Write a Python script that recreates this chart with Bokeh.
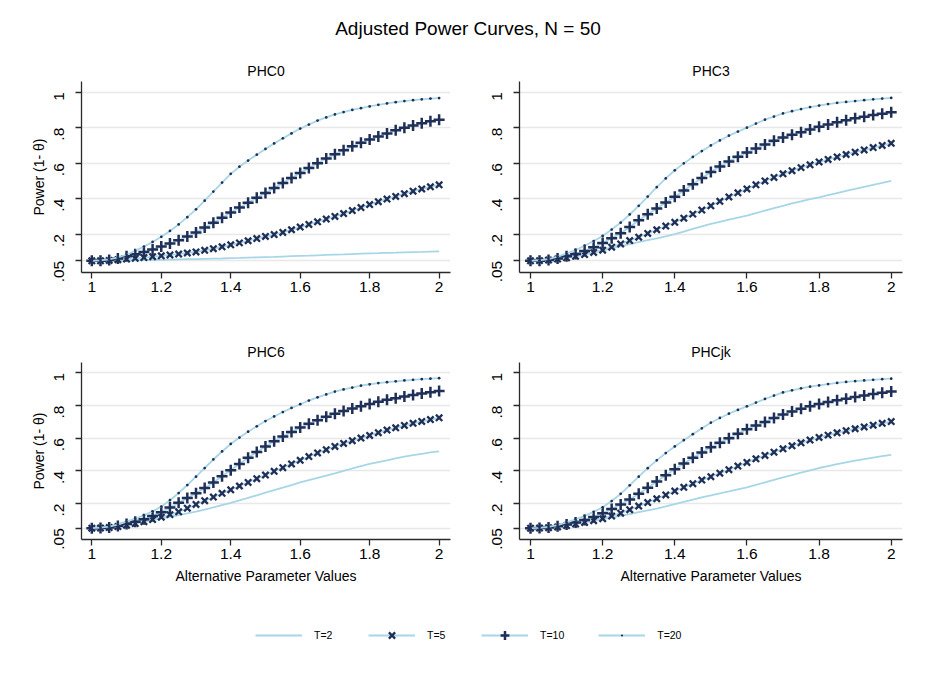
import math
from bokeh.plotting import figure
from bokeh.models import Range1d, FixedTicker, ColumnDataSource, Legend, LegendItem
from bokeh.layouts import column, row
from bokeh.embed import file_html
from bokeh.resources import INLINE
from bokeh.core.properties import value

# ---------------- data ----------------
alt_values = [1.000, 1.025, 1.050, 1.075, 1.100, 1.125, 1.150, 1.175, 1.200, 1.225,
              1.250, 1.275, 1.300, 1.325, 1.350, 1.375, 1.400, 1.425, 1.450, 1.475,
              1.500, 1.525, 1.550, 1.575, 1.600, 1.625, 1.650, 1.675, 1.700, 1.725,
              1.750, 1.775, 1.800, 1.825, 1.850, 1.875, 1.900, 1.925, 1.950, 1.975,
              2.000]

series_labels = ["T=2", "T=5", "T=10", "T=20"]
panel_titles = ["PHC0", "PHC3", "PHC6", "PHCjk"]

phc0_t2 = [0.050, 0.050, 0.051, 0.051, 0.052, 0.053, 0.054, 0.055, 0.056, 0.057,
           0.058, 0.059, 0.060, 0.061, 0.062, 0.063, 0.065, 0.066, 0.068, 0.069,
           0.071, 0.072, 0.074, 0.076, 0.078, 0.079, 0.081, 0.083, 0.085, 0.086,
           0.088, 0.090, 0.092, 0.093, 0.095, 0.096, 0.098, 0.099, 0.100, 0.102,
           0.103]
phc0_t5 = [0.050, 0.050, 0.052, 0.056, 0.060, 0.064, 0.068, 0.073, 0.078, 0.083,
           0.088, 0.094, 0.100, 0.109, 0.118, 0.129, 0.140, 0.151, 0.163, 0.175,
           0.187, 0.198, 0.210, 0.225, 0.240, 0.255, 0.270, 0.285, 0.300, 0.316,
           0.333, 0.350, 0.367, 0.383, 0.398, 0.413, 0.428, 0.442, 0.455, 0.467,
           0.478]
phc0_t10 = [0.050, 0.051, 0.055, 0.063, 0.075, 0.087, 0.100, 0.114, 0.130, 0.147,
            0.166, 0.187, 0.210, 0.237, 0.265, 0.293, 0.322, 0.350, 0.377, 0.405,
            0.432, 0.460, 0.488, 0.517, 0.545, 0.573, 0.600, 0.626, 0.650, 0.673,
            0.695, 0.715, 0.733, 0.751, 0.768, 0.785, 0.800, 0.813, 0.825, 0.836,
            0.845]
phc0_t20 = [0.050, 0.052, 0.058, 0.069, 0.085, 0.106, 0.130, 0.156, 0.185, 0.218,
            0.255, 0.296, 0.340, 0.389, 0.440, 0.491, 0.540, 0.580, 0.615, 0.648,
            0.680, 0.711, 0.740, 0.768, 0.795, 0.818, 0.840, 0.858, 0.875, 0.888,
            0.900, 0.910, 0.920, 0.929, 0.937, 0.944, 0.950, 0.955, 0.960, 0.964,
            0.967]

phc3_t2 = [0.050, 0.052, 0.055, 0.062, 0.070, 0.078, 0.087, 0.097, 0.108, 0.120,
           0.132, 0.144, 0.155, 0.166, 0.177, 0.188, 0.200, 0.215, 0.230, 0.244,
           0.258, 0.270, 0.282, 0.293, 0.305, 0.319, 0.333, 0.347, 0.360, 0.373,
           0.385, 0.397, 0.408, 0.420, 0.432, 0.444, 0.455, 0.467, 0.478, 0.489,
           0.500]
phc3_t5 = [0.050, 0.051, 0.054, 0.060, 0.067, 0.075, 0.085, 0.097, 0.110, 0.127,
           0.145, 0.164, 0.183, 0.204, 0.225, 0.246, 0.267, 0.290, 0.313, 0.336,
           0.360, 0.385, 0.410, 0.433, 0.455, 0.478, 0.500, 0.520, 0.540, 0.558,
           0.575, 0.591, 0.607, 0.621, 0.635, 0.649, 0.662, 0.675, 0.688, 0.700,
           0.712]
phc3_t10 = [0.050, 0.051, 0.055, 0.063, 0.075, 0.089, 0.105, 0.126, 0.150, 0.177,
            0.205, 0.240, 0.278, 0.312, 0.345, 0.378, 0.411, 0.446, 0.481, 0.516,
            0.550, 0.581, 0.610, 0.636, 0.660, 0.683, 0.705, 0.726, 0.745, 0.760,
            0.775, 0.790, 0.805, 0.818, 0.830, 0.842, 0.853, 0.862, 0.871, 0.879,
            0.887]
phc3_t20 = [0.050, 0.053, 0.060, 0.073, 0.090, 0.111, 0.135, 0.161, 0.190, 0.226,
            0.265, 0.311, 0.360, 0.412, 0.465, 0.514, 0.560, 0.599, 0.635, 0.668,
            0.700, 0.728, 0.755, 0.778, 0.800, 0.823, 0.845, 0.863, 0.880, 0.893,
            0.905, 0.916, 0.925, 0.933, 0.940, 0.945, 0.950, 0.955, 0.960, 0.964,
            0.968]

phc6_t2 = [0.050, 0.052, 0.055, 0.062, 0.070, 0.080, 0.090, 0.100, 0.110, 0.120,
           0.130, 0.141, 0.152, 0.164, 0.177, 0.191, 0.205, 0.220, 0.235, 0.251,
           0.268, 0.283, 0.298, 0.314, 0.330, 0.344, 0.357, 0.371, 0.385, 0.400,
           0.415, 0.429, 0.443, 0.454, 0.465, 0.477, 0.488, 0.497, 0.505, 0.513,
           0.520]
phc6_t5 = [0.050, 0.051, 0.054, 0.060, 0.068, 0.078, 0.090, 0.103, 0.117, 0.133,
           0.150, 0.172, 0.195, 0.218, 0.240, 0.263, 0.285, 0.308, 0.330, 0.353,
           0.375, 0.398, 0.420, 0.443, 0.465, 0.488, 0.510, 0.530, 0.550, 0.568,
           0.585, 0.601, 0.617, 0.634, 0.650, 0.664, 0.678, 0.691, 0.703, 0.714,
           0.725]
phc6_t10 = [0.050, 0.051, 0.055, 0.063, 0.075, 0.089, 0.105, 0.125, 0.148, 0.176,
            0.205, 0.234, 0.264, 0.296, 0.330, 0.367, 0.405, 0.443, 0.480, 0.516,
            0.550, 0.581, 0.610, 0.638, 0.665, 0.688, 0.710, 0.731, 0.750, 0.767,
            0.782, 0.796, 0.810, 0.823, 0.835, 0.845, 0.855, 0.864, 0.873, 0.881,
            0.888]
phc6_t20 = [0.050, 0.053, 0.060, 0.072, 0.090, 0.108, 0.128, 0.153, 0.182, 0.221,
            0.265, 0.314, 0.365, 0.418, 0.470, 0.519, 0.565, 0.604, 0.640, 0.673,
            0.705, 0.733, 0.760, 0.785, 0.808, 0.830, 0.850, 0.868, 0.885, 0.898,
            0.910, 0.921, 0.930, 0.937, 0.943, 0.948, 0.953, 0.957, 0.961, 0.964,
            0.967]

phcjk_t2 = [0.050, 0.052, 0.055, 0.061, 0.068, 0.076, 0.085, 0.095, 0.105, 0.115,
            0.125, 0.136, 0.148, 0.159, 0.170, 0.183, 0.197, 0.211, 0.225, 0.238,
            0.250, 0.263, 0.275, 0.288, 0.300, 0.315, 0.330, 0.345, 0.360, 0.375,
            0.390, 0.404, 0.418, 0.430, 0.442, 0.453, 0.463, 0.472, 0.481, 0.490,
            0.498]
phcjk_t5 = [0.050, 0.051, 0.053, 0.058, 0.066, 0.075, 0.085, 0.096, 0.108, 0.124,
            0.142, 0.163, 0.185, 0.207, 0.230, 0.253, 0.277, 0.300, 0.322, 0.344,
            0.365, 0.386, 0.408, 0.430, 0.452, 0.474, 0.495, 0.515, 0.535, 0.554,
            0.572, 0.589, 0.605, 0.619, 0.633, 0.646, 0.658, 0.669, 0.680, 0.691,
            0.702]
phcjk_t10 = [0.050, 0.051, 0.055, 0.062, 0.072, 0.085, 0.100, 0.119, 0.142, 0.167,
             0.195, 0.226, 0.260, 0.297, 0.335, 0.373, 0.410, 0.446, 0.480, 0.513,
             0.545, 0.573, 0.600, 0.628, 0.655, 0.678, 0.700, 0.723, 0.745, 0.763,
             0.780, 0.796, 0.810, 0.821, 0.832, 0.842, 0.852, 0.861, 0.870, 0.878,
             0.886]
phcjk_t20 = [0.050, 0.052, 0.058, 0.069, 0.085, 0.104, 0.125, 0.150, 0.178, 0.216,
             0.260, 0.312, 0.365, 0.417, 0.465, 0.509, 0.550, 0.588, 0.625, 0.661,
             0.695, 0.724, 0.750, 0.773, 0.795, 0.818, 0.840, 0.861, 0.880, 0.893,
             0.905, 0.915, 0.923, 0.931, 0.938, 0.944, 0.949, 0.953, 0.957, 0.961,
             0.964]

y_ticks = [0.05, 0.2, 0.4, 0.6, 0.8, 1.0]
y_tick_labels = [".05", ".2", ".4", ".6", ".8", "1"]
x_ticks = [1.0, 1.2, 1.4, 1.6, 1.8, 2.0]
x_tick_labels = ["1", "1.2", "1.4", "1.6", "1.8", "2"]

panel_data = {
    "PHC0": [phc0_t2, phc0_t5, phc0_t10, phc0_t20],
    "PHC3": [phc3_t2, phc3_t5, phc3_t10, phc3_t20],
    "PHC6": [phc6_t2, phc6_t5, phc6_t10, phc6_t20],
    "PHCjk": [phcjk_t2, phcjk_t5, phcjk_t10, phcjk_t20],
}

# ---------------- style ----------------
FONT = "Liberation Sans"
LINE_COLOR = "#a7d6e6"
MARK_COLOR = "#1f2f57"
GRID_COLOR = "#e8e8e8"
AXIS_COLOR = "#2a2a2a"
# marker type, size, line width (None = line only)
marker_styles = [None, ("x", 9, 2.3), ("cross", 11, 2.5), ("dot", 11, 1.0)]


def make_panel(title, series, width, height, bl, br, bt, bb, xr, yr,
               ylabel=None, xlabel=None):
    p = figure(width=width, height=height, x_range=Range1d(*xr), y_range=Range1d(*yr),
               output_backend="svg", toolbar_location=None,
               min_border_left=bl, min_border_right=br, min_border_top=bt, min_border_bottom=bb)
    p.outline_line_color = None
    p.background_fill_color = "white"
    p.border_fill_color = "white"

    p.title.text = title
    p.title.align = "center"
    p.title.text_font = FONT
    p.title.text_font_size = "14px"
    p.title.text_font_style = "normal"
    p.title.text_color = "black"
    p.title.standoff = 5

    p.xgrid.visible = False
    p.ygrid.ticker = FixedTicker(ticks=y_ticks)
    p.ygrid.grid_line_color = GRID_COLOR
    p.ygrid.grid_line_width = 1.4

    for ax in (p.xaxis[0], p.yaxis[0]):
        ax.axis_line_color = AXIS_COLOR
        ax.axis_line_width = 1.3
        ax.major_tick_line_color = AXIS_COLOR
        ax.major_tick_line_width = 1.3
        ax.major_tick_out = 6
        ax.major_tick_in = 0
        ax.minor_tick_out = 0
        ax.minor_tick_in = 0
        ax.major_label_text_font = FONT
        ax.major_label_text_font_size = "15.5px"
        ax.major_label_text_color = "black"
        ax.axis_label_text_font = FONT
        ax.axis_label_text_font_style = "normal"
        ax.axis_label_text_color = "black"

    p.yaxis.ticker = FixedTicker(ticks=y_ticks)
    p.yaxis.major_label_overrides = dict(zip(y_ticks, y_tick_labels))
    p.yaxis.major_label_orientation = math.pi / 2
    p.yaxis.major_label_standoff = 16
    p.xaxis.ticker = FixedTicker(ticks=x_ticks)
    p.xaxis.major_label_overrides = dict(zip(x_ticks, x_tick_labels))
    p.xaxis.major_label_standoff = 3

    if ylabel:
        p.yaxis.axis_label = ylabel
        p.yaxis.axis_label_text_font_size = "14px"
        p.yaxis.axis_label_standoff = 0
    if xlabel:
        p.xaxis.axis_label = xlabel
        p.xaxis.axis_label_text_font_size = "14px"
        p.xaxis.axis_label_standoff = 6

    for ys, ms in zip(series, marker_styles):
        src = ColumnDataSource(dict(x=alt_values, y=ys))
        p.line("x", "y", source=src, line_color=LINE_COLOR, line_width=1.8)
        if ms is not None:
            mk, sz, lw = ms
            p.scatter("x", "y", source=src, marker=mk, size=sz, line_color=MARK_COLOR,
                      fill_color=MARK_COLOR, line_width=lw)
    return p


TOP_Y = (-0.0159, 1.0603)
BOT_Y = (-0.0191, 1.0630)
LEFT_X = (0.9703, 2.0328)
RIGHT_X = (0.9695, 2.0313)

p1 = make_panel(panel_titles[0], panel_data["PHC0"], 467, 264, 81, 17, 25, 48, LEFT_X, TOP_Y,
                ylabel="Power (1- θ)")
p2 = make_panel(panel_titles[1], panel_data["PHC3"], 468, 264, 52, 33, 25, 48, RIGHT_X, TOP_Y)
p3 = make_panel(panel_titles[2], panel_data["PHC6"], 467, 278, 81, 17, 42, 59, LEFT_X, BOT_Y,
                ylabel="Power (1- θ)", xlabel="Alternative Parameter Values")
p4 = make_panel(panel_titles[3], panel_data["PHCjk"], 468, 278, 52, 33, 42, 59, RIGHT_X, BOT_Y,
                xlabel="Alternative Parameter Values")

# main title
pt = figure(width=935, height=56, x_range=Range1d(0, 1), y_range=Range1d(0, 1),
            output_backend="svg", toolbar_location=None, x_axis_type=None, y_axis_type=None,
            min_border=0)
pt.outline_line_color = None
pt.grid.visible = False
pt.text(x=[0.5], y=[0.5], text=["Adjusted Power Curves, N = 50"], text_align="center",
        text_baseline="middle", text_font=value(FONT), text_font_size="19px", text_color="black")

# legend (its renderers reuse the PHCjk series, kept outside the visible range)
pl = figure(width=935, height=82, x_range=Range1d(0, 1), y_range=Range1d(10, 11),
            output_backend="svg", toolbar_location=None, x_axis_type=None, y_axis_type=None,
            min_border=0)
pl.outline_line_color = None
pl.grid.visible = False
items = []
for lab, ys, ms in zip(series_labels, panel_data["PHCjk"], marker_styles):
    src = ColumnDataSource(dict(x=alt_values, y=ys))
    rs = [pl.line("x", "y", source=src, line_color=LINE_COLOR, line_width=2.2)]
    if ms is not None:
        mk, sz, lw = ms
        rs.append(pl.scatter("x", "y", source=src, marker=mk, size=sz, line_color=MARK_COLOR,
                             fill_color=MARK_COLOR, line_width=lw))
    items.append(LegendItem(label=lab, renderers=rs))
legend = Legend(items=items, orientation="horizontal", location=(255, 34),
                glyph_width=47, glyph_height=22, label_standoff=12, spacing=34,
                padding=0, margin=0, border_line_color=None, background_fill_alpha=0,
                label_text_font=FONT, label_text_font_size="10.5px", label_text_color="black")
pl.add_layout(legend, "center")

layout = column(pt, row(p1, p2), row(p3, p4), pl)

open("out.html", "w").write(file_html(layout, INLINE))
